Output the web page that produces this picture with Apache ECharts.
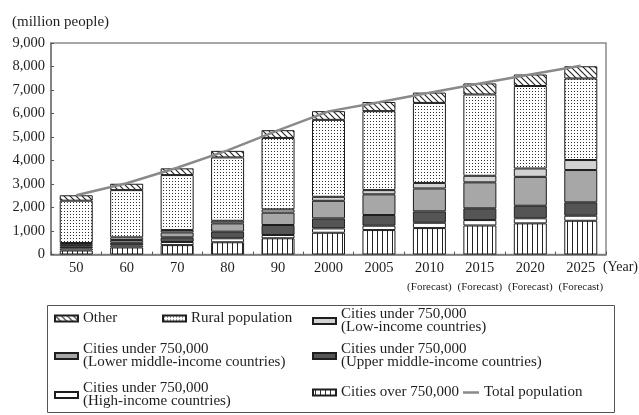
<!DOCTYPE html>
<html>
<head>
<meta charset="utf-8">
<script src="https://cdn.jsdelivr.net/npm/echarts@6/dist/echarts.min.js"></script>
<style>
  html, body { margin: 0; padding: 0; background: #fff; }
  #chart { width: 639px; height: 415px; }
</style>
</head>
<body>
<div id="chart"></div>
<script>
// World population by settlement type (million people)
const years = ['50', '60', '70', '80', '90', '2000', '2005', '2010', '2015', '2020', '2025'];
const forecastYears = ['2010', '2015', '2020', '2025'];

const citiesOver750k  = [170, 300, 400, 520, 690, 925, 1040, 1125, 1235, 1325, 1435];
const highIncome      = [90, 85, 130, 170, 140, 185, 185, 225, 230, 215, 215];
const upperMiddle     = [70, 115, 200, 280, 425, 425, 455, 485, 500, 535, 570];
const lowerMiddle     = [80, 115, 210, 355, 525, 750, 880, 975, 1105, 1230, 1375];
const lowIncome       = [80, 115, 100, 110, 140, 170, 180, 235, 280, 355, 425];
const rural           = [1800, 2010, 2340, 2695, 3040, 3275, 3360, 3405, 3460, 3510, 3470];
const other           = [230, 270, 285, 280, 330, 370, 390, 440, 470, 490, 520];
const totalPopulation = [2520, 3030, 3690, 4430, 5280, 6090, 6480, 6880, 7280, 7660, 8030];

const SERIF = "'Liberation Serif', 'DejaVu Serif', serif";
const INK = '#1e1e1e';

// Small tiled fills for the monochrome bar segments
function pattern(w, h, draw) {
  const c = document.createElement('canvas');
  c.width = w; c.height = h;
  const ctx = c.getContext('2d');
  ctx.fillStyle = '#fff';
  ctx.fillRect(0, 0, w, h);
  draw(ctx);
  return { image: c, repeat: 'repeat' };
}
const hatchFill = pattern(6, 6, ctx => {
  ctx.strokeStyle = '#222';
  ctx.lineWidth = 1.1;
  ctx.beginPath();
  ctx.moveTo(-1, -1); ctx.lineTo(7, 7);
  ctx.moveTo(5, -1); ctx.lineTo(7, 1);
  ctx.moveTo(-1, 5); ctx.lineTo(1, 7);
  ctx.stroke();
});
const dotFill = pattern(3, 3, ctx => {
  ctx.fillStyle = '#333';
  ctx.fillRect(1, 1, 1, 1);
});
const stripeFill = pattern(5, 5, ctx => {
  ctx.fillStyle = '#222';
  ctx.fillRect(2, 0, 1, 5);
});

const N_OTHER = 'Other';
const N_RURAL = 'Rural population';
const N_LOW = 'Cities under 750,000 (Low-income countries)';
const N_LMID = 'Cities under 750,000 (Lower middle-income countries)';
const N_UMID = 'Cities under 750,000 (Upper middle-income countries)';
const N_HIGH = 'Cities under 750,000 (High-income countries)';
const N_OVER = 'Cities over 750,000';
const N_TOTAL = 'Total population';

const LINE_GRAY = '#8a8a8a';

function barSeries(name, data, color) {
  return {
    name, type: 'bar', stack: 'pop', data, barWidth: 33,
    itemStyle: { color, borderColor: INK, borderWidth: 1 },
    emphasis: { disabled: true }
  };
}

function twoLine(name) {
  const i = name.indexOf(' (');
  return i > 0 ? name.slice(0, i) + '\n' + name.slice(i + 1) : name;
}

const legendBase = {
  padding: 0, itemWidth: 23, itemHeight: 6, selectedMode: false,
  orient: 'horizontal', icon: 'rect',
  textStyle: { fontFamily: SERIF, fontSize: 15, color: INK, lineHeight: 13 },
  formatter: twoLine
};
function legendAt(name, left, top, extra) {
  return Object.assign({}, legendBase, { data: [name], left, top }, extra || {});
}

const chart = echarts.init(document.getElementById('chart'), null, { renderer: 'canvas' });
chart.setOption({
  animation: false,
  title: {
    text: '(million people)', left: 12, top: 15, padding: 0,
    textStyle: { fontFamily: SERIF, fontSize: 15, fontWeight: 'normal', color: INK }
  },
  grid: {
    left: 51, right: 33, top: 43, bottom: 160.5,
    show: true, borderColor: '#8a8a8a', borderWidth: 1.5,
    outerBoundsMode: 'none'
  },
  xAxis: {
    type: 'category', data: years, boundaryGap: true,
    axisLine: { lineStyle: { color: '#777', width: 1.5 } },
    axisTick: { show: true, inside: true, length: 3, lineStyle: { color: '#555' } },
    axisLabel: {
      margin: 5, interval: 0,
      formatter: v => forecastYears.includes(v) ? '{y|' + v + '}\n{f|(Forecast)}' : '{y|' + v + '}',
      rich: {
        y: { fontFamily: SERIF, fontSize: 14.5, color: INK, lineHeight: 18 },
        f: { fontFamily: SERIF, fontSize: 11, color: INK, lineHeight: 19 }
      }
    }
  },
  yAxis: {
    type: 'value', min: 0, max: 9000, interval: 1000,
    splitLine: { show: false },
    axisLine: { show: true, lineStyle: { color: '#777', width: 1.5 } },
    axisTick: { show: true, inside: true, length: 3, lineStyle: { color: '#555' } },
    axisLabel: {
      margin: 6, fontFamily: SERIF, fontSize: 14.5, color: INK,
      formatter: v => v.toLocaleString('en-US')
    }
  },
  legend: [
    legendAt(N_OTHER, 54, 311),
    legendAt(N_RURAL, 162, 311),
    legendAt(N_LOW, 312, 307),
    legendAt(N_LMID, 54, 342),
    legendAt(N_UMID, 312, 342),
    legendAt(N_HIGH, 54, 381),
    legendAt(N_OVER, 312, 385),
    legendAt(N_TOTAL, 463, 385, {
      itemWidth: 16, itemHeight: 2.5,
      itemStyle: { color: LINE_GRAY, borderWidth: 0 }
    })
  ],
  graphic: [
    {
      type: 'rect', left: 45, top: 303, silent: true,
      shape: { width: 567, height: 107 },
      style: { fill: 'none', stroke: '#555', lineWidth: 1 }
    },
    {
      type: 'text', right: 1, top: 260, silent: true,
      style: { text: '(Year)', fontFamily: SERIF, fontSize: 14, fill: INK }
    }
  ],
  series: [
    barSeries(N_OVER, citiesOver750k, stripeFill),
    barSeries(N_HIGH, highIncome, '#ffffff'),
    barSeries(N_UMID, upperMiddle, '#555555'),
    barSeries(N_LMID, lowerMiddle, '#a7a7a7'),
    barSeries(N_LOW, lowIncome, '#d2d2d2'),
    barSeries(N_RURAL, rural, dotFill),
    barSeries(N_OTHER, other, hatchFill),
    {
      name: N_TOTAL, type: 'line', data: totalPopulation, z: 10,
      symbol: 'none', showSymbol: false,
      lineStyle: { color: LINE_GRAY, width: 2.5 },
      itemStyle: { color: LINE_GRAY },
      emphasis: { disabled: true }
    }
  ]
});
</script>
</body>
</html>
